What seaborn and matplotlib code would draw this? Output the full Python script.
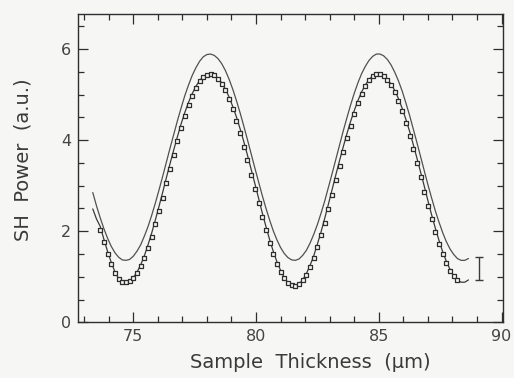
import matplotlib
matplotlib.use("Agg")
import matplotlib.pyplot as plt
import seaborn as sns
from matplotlib.ticker import MultipleLocator

# ---- data ----
thickness = [73.35, 73.50, 73.65, 73.80, 73.95, 74.10, 74.25, 74.40, 74.55, 74.70,
             74.85, 75.00, 75.15, 75.30, 75.45, 75.60, 75.75, 75.90, 76.05, 76.20,
             76.35, 76.50, 76.65, 76.80, 76.95, 77.10, 77.25, 77.40, 77.55, 77.70,
             77.85, 78.00, 78.15, 78.30, 78.45, 78.60, 78.75, 78.90, 79.05, 79.20,
             79.35, 79.50, 79.65, 79.80, 79.95, 80.10, 80.25, 80.40, 80.55, 80.70,
             80.85, 81.00, 81.15, 81.30, 81.45, 81.60, 81.75, 81.90, 82.05, 82.20,
             82.35, 82.50, 82.65, 82.80, 82.95, 83.10, 83.25, 83.40, 83.55, 83.70,
             83.85, 84.00, 84.15, 84.30, 84.45, 84.60, 84.75, 84.90, 85.05, 85.20,
             85.35, 85.50, 85.65, 85.80, 85.95, 86.10, 86.25, 86.40, 86.55, 86.70,
             86.85, 87.00, 87.15, 87.30, 87.45, 87.60, 87.75, 87.90, 88.05, 88.20,
             88.35, 88.50, 88.65]

upper_curve = [2.85, 2.56, 2.30, 2.06, 1.85, 1.67, 1.53, 1.43, 1.37, 1.36,
               1.38, 1.45, 1.56, 1.70, 1.89, 2.10, 2.35, 2.62, 2.91, 3.21,
               3.52, 3.83, 4.13, 4.43, 4.71, 4.98, 5.21, 5.42, 5.59, 5.73,
               5.83, 5.88, 5.89, 5.86, 5.79, 5.68, 5.53, 5.34, 5.12, 4.87,
               4.60, 4.31, 4.01, 3.70, 3.39, 3.09, 2.79, 2.51, 2.25, 2.01,
               1.81, 1.64, 1.51, 1.42, 1.37, 1.36, 1.39, 1.47, 1.58, 1.74,
               1.93, 2.15, 2.40, 2.67, 2.97, 3.27, 3.58, 3.89, 4.20, 4.49,
               4.77, 5.03, 5.26, 5.46, 5.62, 5.75, 5.84, 5.89, 5.89, 5.85,
               5.77, 5.65, 5.49, 5.30, 5.08, 4.82, 4.55, 4.25, 3.95, 3.64,
               3.33, 3.02, 2.73, 2.45, 2.20, 1.97, 1.77, 1.61, 1.49, 1.40,
               1.36, 1.36, 1.40]

lower_curve = [2.49, 2.27, 2.11, 1.83, 1.56, 1.32, 1.11, 0.96, 0.89, 0.88,
               0.90, 0.98, 1.10, 1.26, 1.46, 1.70, 1.96, 2.25, 2.55, 2.86,
               3.18, 3.49, 3.79, 4.08, 4.36, 4.61, 4.83, 5.02, 5.18, 5.31,
               5.39, 5.44, 5.45, 5.43, 5.36, 5.26, 5.12, 4.95, 4.74, 4.51,
               4.25, 3.97, 3.67, 3.36, 3.05, 2.73, 2.41, 2.11, 1.82, 1.56,
               1.33, 1.14, 0.98, 0.87, 0.81, 0.80, 0.84, 0.93, 1.07, 1.25,
               1.46, 1.72, 1.99, 2.29, 2.60, 2.92, 3.24, 3.55, 3.85, 4.14,
               4.41, 4.65, 4.87, 5.06, 5.21, 5.33, 5.41, 5.45, 5.45, 5.42,
               5.34, 5.23, 5.09, 4.91, 4.70, 4.46, 4.20, 3.91, 3.61, 3.30,
               2.99, 2.67, 2.36, 2.07, 1.80, 1.55, 1.34, 1.16, 1.02, 0.93,
               0.88, 0.88, 0.93]

measured = [2.03, 1.76, 1.51, 1.29, 1.09, 0.95, 0.89, 0.88, 0.90, 0.97,
            1.08, 1.23, 1.41, 1.63, 1.88, 2.15, 2.44, 2.74,
            3.06, 3.37, 3.68, 3.98, 4.26, 4.53, 4.77, 4.98, 5.15, 5.29,
            5.39, 5.44, 5.45, 5.42, 5.35, 5.24, 5.09, 4.90, 4.68, 4.43,
            4.15, 3.86, 3.56, 3.24, 2.93, 2.62, 2.31, 2.02, 1.75, 1.50,
            1.29, 1.11, 0.97, 0.87, 0.81, 0.80, 0.84, 0.92, 1.04, 1.21,
            1.41, 1.65, 1.91, 2.19, 2.49, 2.80, 3.12, 3.43, 3.74, 4.04,
            4.32, 4.58, 4.81, 5.01, 5.18, 5.31, 5.40, 5.45, 5.45, 5.41,
            5.33, 5.21, 5.05, 4.85, 4.63, 4.37, 4.10, 3.80, 3.49, 3.18,
            2.87, 2.56, 2.26, 1.98, 1.73, 1.50, 1.30, 1.13, 1.01, 0.92]
measured_x = thickness[2:100]

err_x = [89.1]
err_y = [1.18]
err_half = [0.26]

x_ticks = [75, 80, 85, 90]
y_ticks = [0, 2, 4, 6]

# ---- style ----
bg = "#f6f6f5"
ink = "#2e2e2e"
sns.set_theme(style="ticks")
plt.rcParams["font.family"] = ["DejaVu Sans"]

fig = plt.figure(figsize=(5.14, 3.78), dpi=100, facecolor=bg)
ax = fig.add_axes([0.1523, 0.1474, 0.8269, 0.8156])
ax.set_facecolor(bg)

sns.lineplot(x=thickness, y=upper_curve, ax=ax, color="#505050", linewidth=0.9)
sns.lineplot(x=thickness, y=lower_curve, ax=ax, color="#3a3a3a", linewidth=0.9)
sns.scatterplot(x=measured_x, y=measured, ax=ax, marker="s", s=12,
                color=bg, edgecolor=ink, linewidth=0.9, zorder=3)
ax.errorbar(err_x, err_y, yerr=err_half, fmt="none", ecolor="#3a3a3a",
            elinewidth=1.0, capsize=2.6, capthick=1.0)

ax.set_xlim(72.76, 90.07)
ax.set_ylim(0, 6.77)
ax.set_xticks(x_ticks)
ax.set_yticks(y_ticks)
ax.xaxis.set_minor_locator(MultipleLocator(1))
ax.yaxis.set_minor_locator(MultipleLocator(0.5))
ax.tick_params(which="both", direction="in", top=True, right=True,
               color=ink, width=0.9, labelsize=11.5, labelcolor="#444444")
ax.tick_params(which="major", length=7.5, pad=5)
ax.tick_params(which="minor", length=4.2)
for sp in ax.spines.values():
    sp.set_color(ink)
    sp.set_linewidth(1.0)

ax.set_xlabel("Sample  Thickness  (\u00b5m)", fontsize=14, color="#3a3a3a")
ax.set_ylabel("SH  Power  (a.u.)", fontsize=14, color="#3a3a3a")
ax.xaxis.set_label_coords(0.545, -0.1)
ax.yaxis.set_label_coords(-0.108, 0.527)

fig.savefig("out.png", dpi=100, facecolor=bg)
